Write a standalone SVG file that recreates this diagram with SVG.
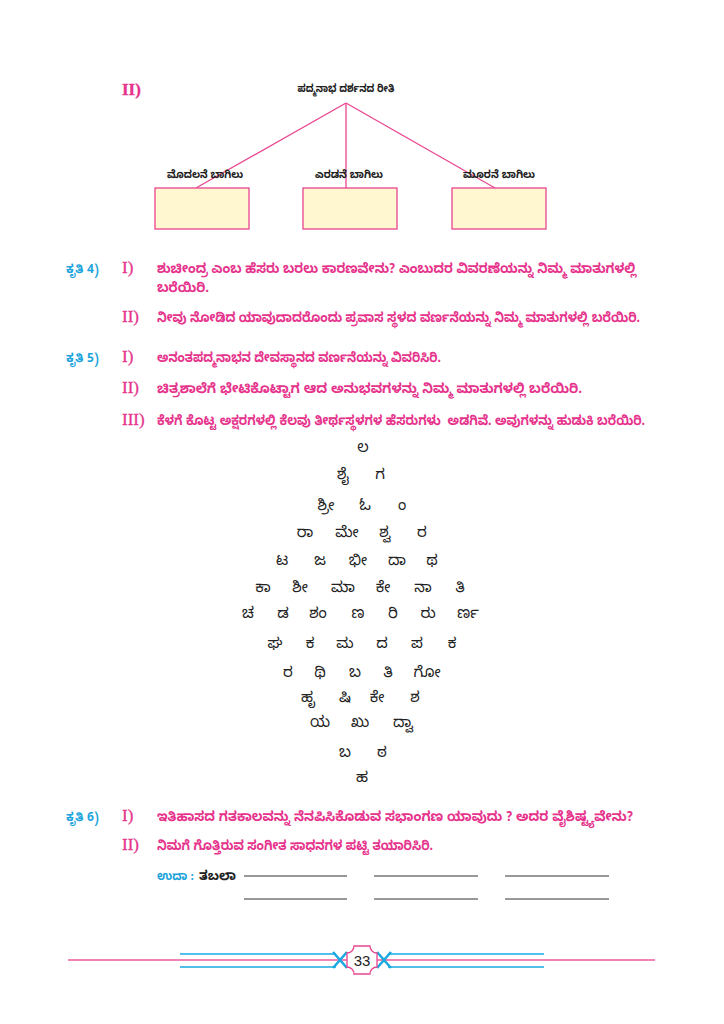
<svg xmlns="http://www.w3.org/2000/svg" width="724" height="1024" viewBox="0 0 724 1024">
<style>
.kn{font-family:"Noto Sans Kannada","Noto Sans","Lohit Kannada","Tunga",sans-serif}
.q{font-size:13.5px;font-weight:bold;fill:#e6338c}
.rn{font-family:"Liberation Serif",serif;font-size:17px;fill:#e6338c;stroke:#e6338c;stroke-width:0.3}
.kr{font-size:12px;font-weight:bold;fill:#1da4dc}
.lab{font-size:11px;font-weight:bold;fill:#222;text-anchor:middle}
.py{font-size:15px;fill:#222;text-anchor:middle}
.box{fill:#fff7cf;stroke:#e8468f;stroke-width:1.3}
.con{stroke:#e8468f;stroke-width:1.3;fill:none}
.ul{stroke:#333;stroke-width:1}
</style>
<rect width="724" height="1024" fill="#fff"/>

<text class="rn" x="122" y="95" font-weight="bold" font-size="15">II)</text>

<g id="connectors">
<line class="con" x1="346" y1="103" x2="196" y2="188"/>
<line class="con" x1="346" y1="103" x2="346" y2="188"/>
<line class="con" x1="346" y1="103" x2="495" y2="188"/>
</g>
<g id="node-title"><text class="kn lab" x="346" y="92" textLength="97" lengthAdjust="spacingAndGlyphs">ಪದ್ಮನಾಭ ದರ್ಶನದ ರೀತಿ</text></g>
<g id="node-door1"><text class="kn lab" x="205" y="178" textLength="76" lengthAdjust="spacingAndGlyphs">ಮೊದಲನೆ ಬಾಗಿಲು</text><rect class="box" x="155" y="188" width="94" height="41"/></g>
<g id="node-door2"><text class="kn lab" x="349" y="178" textLength="68" lengthAdjust="spacingAndGlyphs">ಎರಡನೆ ಬಾಗಿಲು</text><rect class="box" x="303" y="188" width="94" height="41"/></g>
<g id="node-door3"><text class="kn lab" x="499" y="178" textLength="72" lengthAdjust="spacingAndGlyphs">ಮೂರನೆ ಬಾಗಿಲು</text><rect class="box" x="452" y="188" width="94" height="41"/></g>

<g id="q4">
<text class="kn kr" x="66" y="273">ಕೃತಿ 4)</text>
<text class="rn" x="122" y="273">I)</text>
<text class="kn q" x="157" y="273" textLength="479" lengthAdjust="spacingAndGlyphs">ಶುಚೀಂದ್ರ ಎಂಬ ಹೆಸರು ಬರಲು ಕಾರಣವೇನು? ಎಂಬುದರ ವಿವರಣೆಯನ್ನು ನಿಮ್ಮ ಮಾತುಗಳಲ್ಲಿ</text>
<text class="kn q" x="157" y="292" textLength="52" lengthAdjust="spacingAndGlyphs">ಬರೆಯಿರಿ.</text>
<text class="rn" x="122" y="322">II)</text>
<text class="kn q" x="157" y="322" textLength="483" lengthAdjust="spacingAndGlyphs">ನೀವು ನೋಡಿದ ಯಾವುದಾದರೊಂದು ಪ್ರವಾಸ ಸ್ಥಳದ ವರ್ಣನೆಯನ್ನು ನಿಮ್ಮ ಮಾತುಗಳಲ್ಲಿ ಬರೆಯಿರಿ.</text>
</g>

<g id="q5">
<text class="kn kr" x="66" y="362">ಕೃತಿ 5)</text>
<text class="rn" x="122" y="362">I)</text>
<text class="kn q" x="157" y="362" textLength="284" lengthAdjust="spacingAndGlyphs">ಅನಂತಪದ್ಮನಾಭನ ದೇವಸ್ಥಾನದ ವರ್ಣನೆಯನ್ನು ವಿವರಿಸಿರಿ.</text>
<text class="rn" x="122" y="393">II)</text>
<text class="kn q" x="157" y="393" textLength="425" lengthAdjust="spacingAndGlyphs">ಚಿತ್ರಶಾಲೆಗೆ ಭೇಟಿಕೊಟ್ಟಾಗ ಆದ ಅನುಭವಗಳನ್ನು ನಿಮ್ಮ ಮಾತುಗಳಲ್ಲಿ ಬರೆಯಿರಿ.</text>
<text class="rn" x="122" y="425">III)</text>
<text class="kn q" x="157" y="425" textLength="488" lengthAdjust="spacingAndGlyphs" style="white-space:pre">ಕೆಳಗೆ ಕೊಟ್ಟ ಅಕ್ಷರಗಳಲ್ಲಿ ಕೆಲವು ತೀರ್ಥಸ್ಥಳಗಳ ಹೆಸರುಗಳು  ಅಡಗಿವೆ. ಅವುಗಳನ್ನು ಹುಡುಕಿ ಬರೆಯಿರಿ.</text>
</g>

<g id="pyramid" class="kn py">
<text x="363" y="452">ಲ</text>
<text x="343" y="479">ಶೈ</text><text x="380" y="479">ಗ</text>
<text x="326" y="510">ಶ್ರೀ</text><text x="365" y="510">ಓ</text><text x="400" y="510">&#160;ಂ</text>
<text x="305" y="537">ರಾ</text><text x="347" y="537">ಮೇ</text><text x="385" y="537">ಶ್ವ</text><text x="422" y="537">ರ</text>
<text x="282" y="565">ಟ</text><text x="320" y="565">ಜ</text><text x="358" y="565">ಭೀ</text><text x="397" y="565">ದಾ</text><text x="432" y="565">ಥ</text>
<text x="263" y="592">ಕಾ</text><text x="300" y="592">ಶೀ</text><text x="343" y="592">ಮಾ</text><text x="383" y="592">ಕೇ</text><text x="423" y="592">ನಾ</text><text x="460" y="592">ತಿ</text>
<text x="248" y="618">ಚ</text><text x="283" y="618">ಡ</text><text x="318" y="618">ಶಂ</text><text x="358" y="618">ಣ</text><text x="393" y="618">ರಿ</text><text x="428" y="618">ರು</text><text x="468" y="618">ರ್ಣ</text>
<text x="275" y="648">ಘ</text><text x="310" y="648">ಕ</text><text x="345" y="648">ಮ</text><text x="382" y="648">ದ</text><text x="417" y="648">ಪ</text><text x="452" y="648">ಕ</text>
<text x="288" y="677">ರ</text><text x="320" y="677">ಥಿ</text><text x="355" y="677">ಬ</text><text x="388" y="677">ತಿ</text><text x="427" y="677">ಗೋ</text>
<text x="308" y="702">ಹೃ</text><text x="345" y="702">ಷಿ</text><text x="377" y="702">ಕೇ</text><text x="415" y="702">ಶ</text>
<text x="320" y="727">ಯ</text><text x="360" y="727">ಖು</text><text x="403" y="727">ದ್ವಾ</text>
<text x="345" y="757">ಬ</text><text x="382" y="757">ಠ</text>
<text x="362" y="782">ಹ</text>
</g>

<g id="q6">
<text class="kn kr" x="66" y="821">ಕೃತಿ 6)</text>
<text class="rn" x="122" y="821">I)</text>
<text class="kn q" x="157" y="821" textLength="476" lengthAdjust="spacingAndGlyphs">ಇತಿಹಾಸದ ಗತಕಾಲವನ್ನು ನೆನಪಿಸಿಕೊಡುವ ಸಭಾಂಗಣ ಯಾವುದು ? ಅದರ ವೈಶಿಷ್ಟ್ಯವೇನು?</text>
<text class="rn" x="122" y="850">II)</text>
<text class="kn q" x="157" y="850" textLength="276" lengthAdjust="spacingAndGlyphs">ನಿಮಗೆ ಗೊತ್ತಿರುವ ಸಂಗೀತ ಸಾಧನಗಳ ಪಟ್ಟಿ ತಯಾರಿಸಿರಿ.</text>
<text class="kn kr" x="157" y="880" textLength="37" lengthAdjust="spacingAndGlyphs">ಉದಾ :</text>
<text class="kn" x="199" y="880" font-size="13" font-weight="bold" fill="#222" textLength="37" lengthAdjust="spacingAndGlyphs">ತಬಲಾ</text>
<line class="ul" x1="244" y1="876" x2="347" y2="876"/>
<line class="ul" x1="374" y1="876" x2="478" y2="876"/>
<line class="ul" x1="505" y1="876" x2="609" y2="876"/>
<line class="ul" x1="244" y1="899" x2="347" y2="899"/>
<line class="ul" x1="374" y1="899" x2="478" y2="899"/>
<line class="ul" x1="505" y1="899" x2="609" y2="899"/>
</g>

<g id="footer">
<line x1="68" y1="960" x2="655" y2="960" stroke="#ec5a9c" stroke-width="1.5"/>
<g stroke="#1aa8e0" stroke-width="1.5">
<line x1="180" y1="954" x2="336" y2="954"/><line x1="180" y1="967" x2="336" y2="967"/>
<line x1="388" y1="954" x2="544" y2="954"/><line x1="388" y1="967" x2="544" y2="967"/>
</g>
<g stroke="#1aa8e0" stroke-width="2.5" fill="none">
<path d="M333,952 Q340,960 347,968 M333,968 Q340,960 347,952"/>
<path d="M377,952 Q384,960 391,968 M377,968 Q384,960 391,952"/>
</g>
<path d="M354,946 H370 A7,7 0 0 0 377,953 V967 A7,7 0 0 0 370,974 H354 A7,7 0 0 0 347,967 V953 A7,7 0 0 0 354,946 Z" fill="#fff" stroke="#e8468f" stroke-width="1.3"/>
<text x="362" y="966" font-family="Liberation Sans, sans-serif" font-size="15" fill="#222" text-anchor="middle">33</text>
</g>
</svg>
